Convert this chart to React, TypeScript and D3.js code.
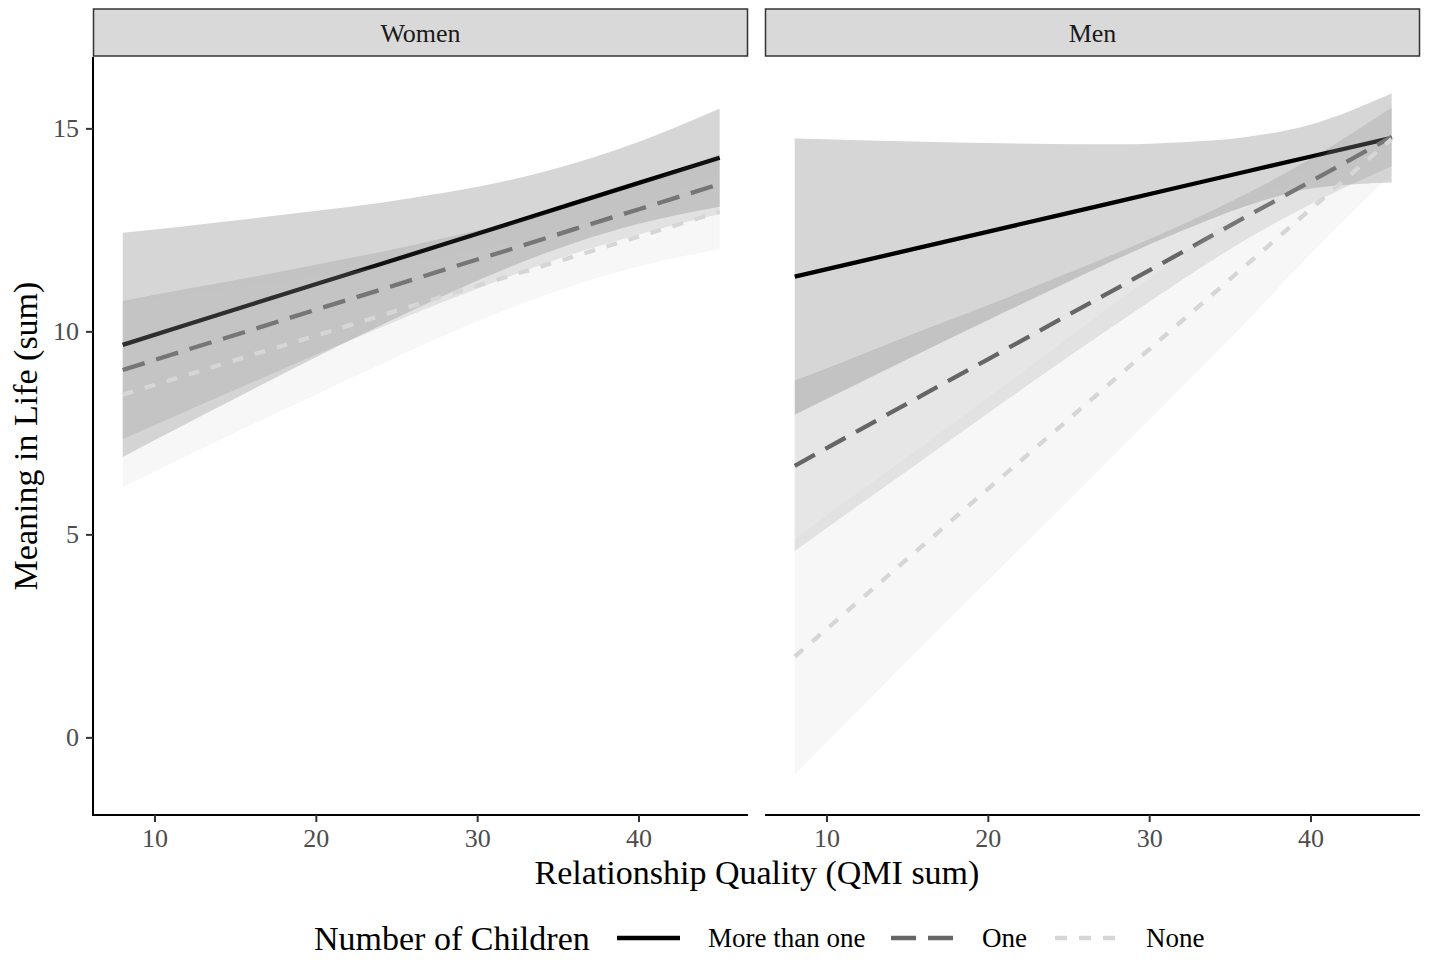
import React, { useEffect, useRef } from 'react';
import * as d3 from 'd3';

const qmi = [8, 12, 16, 20, 24, 28, 32, 36, 40, 45];

// Women
const womenMoreFit = [9.68, 10.18, 10.68, 11.18, 11.67, 12.17, 12.67, 13.17, 13.67, 14.29];
const womenMoreLow = [6.92, 7.75, 8.57, 9.38, 10.16, 10.91, 11.6, 12.19, 12.66, 13.08];
const womenMoreHigh = [12.44, 12.61, 12.79, 12.98, 13.18, 13.43, 13.74, 14.15, 14.68, 15.5];
const womenOneFit = [9.06, 9.56, 10.05, 10.55, 11.04, 11.54, 12.03, 12.53, 13.02, 13.64];
const womenOneLow = [7.36, 8.06, 8.75, 9.44, 10.11, 10.76, 11.37, 11.93, 12.4, 12.9];
const womenOneHigh = [10.76, 11.06, 11.35, 11.66, 11.97, 12.32, 12.69, 13.13, 13.64, 14.38];
const womenNoneFit = [8.45, 8.94, 9.43, 9.91, 10.4, 10.89, 11.38, 11.86, 12.35, 12.96];
const womenNoneLow = [6.18, 6.95, 7.72, 8.46, 9.2, 9.92, 10.58, 11.15, 11.61, 12.04];
const womenNoneHigh = [10.72, 10.93, 11.14, 11.36, 11.6, 11.86, 12.18, 12.57, 13.09, 13.88];

// Men
const menMoreFit = [11.36, 11.73, 12.1, 12.47, 12.84, 13.21, 13.58, 13.95, 14.32, 14.78];
const menMoreLow = [7.96, 8.74, 9.52, 10.29, 11.05, 11.8, 12.49, 13.1, 13.53, 13.68];
const menMoreHigh = [14.76, 14.72, 14.68, 14.65, 14.63, 14.62, 14.67, 14.8, 15.11, 15.88];
const menOneFit = [6.7, 7.58, 8.46, 9.33, 10.21, 11.08, 11.96, 12.84, 13.71, 14.8];
const menOneLow = [4.6, 5.74, 6.87, 8.0, 9.12, 10.21, 11.28, 12.28, 13.15, 14.08];
const menOneHigh = [8.8, 9.42, 10.05, 10.66, 11.3, 11.95, 12.64, 13.4, 14.27, 15.52];
const menNoneFit = [2.0, 3.38, 4.76, 6.14, 7.51, 8.89, 10.27, 11.65, 13.03, 14.75];
const menNoneLow = [-0.9, 0.7, 2.31, 3.89, 5.46, 7.04, 8.64, 10.25, 11.93, 13.9];
const menNoneHigh = [4.9, 6.06, 7.21, 8.39, 9.56, 10.74, 11.9, 13.05, 14.13, 15.6];

const groups = ['More than one', 'One', 'None'];
const panels = ['Women', 'Men'];
const xTicks = [10, 20, 30, 40];
const yTicks = [0, 5, 10, 15];

const lineColors = ['#000000', '#666666', '#d6d6d6'];
const fillColors = ['#000000', '#666666', '#cccccc'];
const dashes = ['none', '23 12', '11 12'];

const series = [
  [
    { fit: womenMoreFit, low: womenMoreLow, high: womenMoreHigh },
    { fit: womenOneFit, low: womenOneLow, high: womenOneHigh },
    { fit: womenNoneFit, low: womenNoneLow, high: womenNoneHigh },
  ],
  [
    { fit: menMoreFit, low: menMoreLow, high: menMoreHigh },
    { fit: menOneFit, low: menOneLow, high: menOneHigh },
    { fit: menNoneFit, low: menNoneLow, high: menNoneHigh },
  ],
];

const FONT = '"Liberation Serif", "Times New Roman", serif';

const App: React.FC = () => {
  const svgRef = useRef<SVGSVGElement | null>(null);

  useEffect(() => {
    if (!svgRef.current) return;
    const W = 1429;
    const H = 961;
    const svg = d3.select(svgRef.current);
    svg.selectAll('*').remove();
    svg.attr('width', W).attr('height', H);

    svg.append('rect').attr('width', W).attr('height', H).attr('fill', '#fff');

    const panelLeft = [93, 765];
    const panelW = 655;
    const top = 57;
    const bottom = 815;

    const y = d3.scaleLinear().domain([-1.9, 16.77]).range([bottom, top]);

    panels.forEach((name, p) => {
      const x = d3
        .scaleLinear()
        .domain([6.157, 46.756])
        .range([panelLeft[p], panelLeft[p] + panelW]);
      const g = svg.append('g');

      // strip
      g.append('rect')
        .attr('x', panelLeft[p] + 0.5)
        .attr('y', 9)
        .attr('width', panelW - 1)
        .attr('height', 47)
        .attr('fill', '#d9d9d9')
        .attr('stroke', '#333')
        .attr('stroke-width', 1.5);
      g.append('text')
        .attr('x', panelLeft[p] + panelW / 2)
        .attr('y', 33)
        .attr('text-anchor', 'middle')
        .attr('dominant-baseline', 'central')
        .attr('font-family', FONT)
        .attr('font-size', 26)
        .attr('fill', '#1a1a1a')
        .text(name);

      const area = d3
        .area<number>()
        .x((_, i) => x(qmi[i]))
        .y0((_, i) => y(series[p][0].low[i]))
        .y1((_, i) => y(series[p][0].high[i]))
        .curve(d3.curveMonotoneX);

      const line = d3
        .line<number>()
        .x((_, i) => x(qmi[i]))
        .y((d) => y(d));

      series[p].forEach((s, k) => {
        const a = d3
          .area<number>()
          .x((_, i) => x(qmi[i]))
          .y0((_, i) => y(s.low[i]))
          .y1((_, i) => y(s.high[i]))
          .curve(d3.curveMonotoneX);
        g.append('path')
          .attr('d', a(s.fit) as string)
          .attr('fill', fillColors[k])
          .attr('fill-opacity', 0.16);
        g.append('path')
          .attr('d', line(s.fit) as string)
          .attr('fill', 'none')
          .attr('stroke', lineColors[k])
          .attr('stroke-width', 4.3)
          .attr('stroke-dasharray', dashes[k]);
      });
      void area;

      // x axis
      g.append('line')
        .attr('x1', panelLeft[p])
        .attr('x2', panelLeft[p] + panelW)
        .attr('y1', bottom)
        .attr('y2', bottom)
        .attr('stroke', '#000')
        .attr('stroke-width', 2);
      xTicks.forEach((t) => {
        g.append('line')
          .attr('x1', x(t))
          .attr('x2', x(t))
          .attr('y1', bottom)
          .attr('y2', bottom + 7)
          .attr('stroke', '#333')
          .attr('stroke-width', 2);
        g.append('text')
          .attr('x', x(t))
          .attr('y', 838)
          .attr('text-anchor', 'middle')
          .attr('dominant-baseline', 'central')
          .attr('font-family', FONT)
          .attr('font-size', 26)
          .attr('fill', '#4d4d4d')
          .text(t);
      });

      if (p === 0) {
        g.append('line')
          .attr('x1', panelLeft[p])
          .attr('x2', panelLeft[p])
          .attr('y1', top)
          .attr('y2', bottom + 1)
          .attr('stroke', '#000')
          .attr('stroke-width', 2);
        yTicks.forEach((t) => {
          g.append('line')
            .attr('x1', panelLeft[p] - 7)
            .attr('x2', panelLeft[p])
            .attr('y1', y(t))
            .attr('y2', y(t))
            .attr('stroke', '#333')
            .attr('stroke-width', 2);
          g.append('text')
            .attr('x', 79)
            .attr('y', y(t))
            .attr('text-anchor', 'end')
            .attr('dominant-baseline', 'central')
            .attr('font-family', FONT)
            .attr('font-size', 26)
            .attr('fill', '#4d4d4d')
            .text(t);
        });
      }
    });

    // axis titles
    svg.append('text')
      .attr('x', 757)
      .attr('y', 872)
      .attr('text-anchor', 'middle')
      .attr('dominant-baseline', 'central')
      .attr('font-family', FONT)
      .attr('font-size', 34)
      .attr('fill', '#000')
      .text('Relationship Quality (QMI sum)');
    svg.append('text')
      .attr('transform', 'translate(25,436) rotate(-90)')
      .attr('text-anchor', 'middle')
      .attr('dominant-baseline', 'central')
      .attr('font-family', FONT)
      .attr('font-size', 34)
      .attr('fill', '#000')
      .text('Meaning in Life (sum)');

    // legend
    const ly = 938;
    svg.append('text')
      .attr('x', 314)
      .attr('y', ly)
      .attr('dominant-baseline', 'central')
      .attr('font-family', FONT)
      .attr('font-size', 34)
      .attr('fill', '#000')
      .text('Number of Children');
    const keyX = [617, 891, 1055];
    groups.forEach((name, k) => {
      svg.append('line')
        .attr('x1', keyX[k])
        .attr('x2', keyX[k] + 63)
        .attr('y1', ly)
        .attr('y2', ly)
        .attr('stroke', lineColors[k])
        .attr('stroke-width', 4.3)
        .attr('stroke-dasharray', k === 1 ? '25 12' : k === 2 ? '12 12' : 'none');
      svg.append('text')
        .attr('x', keyX[k] + 91)
        .attr('y', ly)
        .attr('dominant-baseline', 'central')
        .attr('font-family', FONT)
        .attr('font-size', 27)
        .attr('fill', '#000')
        .text(name);
    });
  }, []);

  return <svg ref={svgRef} style={{ position: 'absolute', left: 0, top: 0 }} />;
};

export default App;
